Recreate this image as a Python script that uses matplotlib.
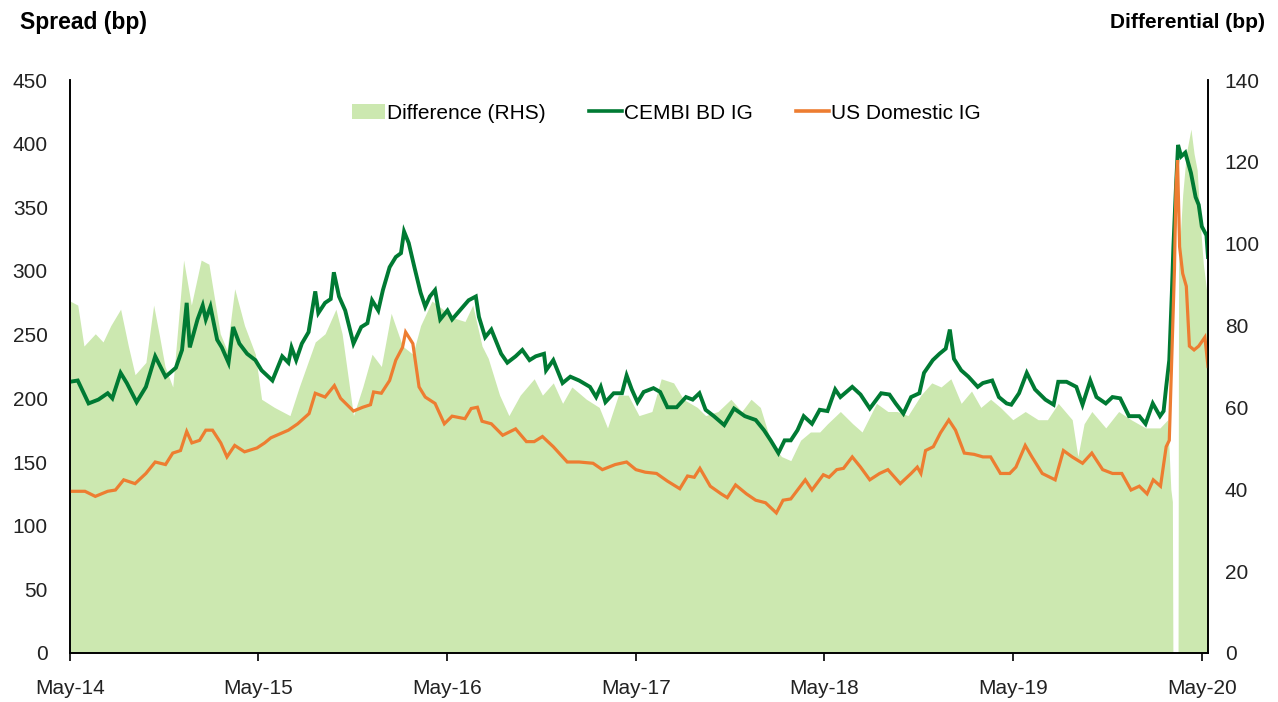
import matplotlib
matplotlib.use("Agg")
import matplotlib.pyplot as plt
import matplotlib.dates as mdates
from matplotlib.patches import Patch
from matplotlib.lines import Line2D
import pandas as pd

plt.rcParams['font.family'] = ['Liberation Sans', 'DejaVu Sans']

# ---------------- data ----------------
cembi_dates = [
    "2014-05-01", "2014-05-16", "2014-06-06", "2014-06-25", "2014-07-13", "2014-07-22", "2014-08-07", "2014-08-19",
    "2014-09-07", "2014-09-25", "2014-10-13", "2014-11-02", "2014-11-22", "2014-12-04", "2014-12-13", "2014-12-19",
    "2015-01-03", "2015-01-13", "2015-01-19", "2015-01-28", "2015-02-10", "2015-02-19", "2015-03-04", "2015-03-13",
    "2015-03-25", "2015-04-09", "2015-04-25", "2015-05-07", "2015-05-28", "2015-06-16", "2015-06-28", "2015-07-04",
    "2015-07-13", "2015-07-24", "2015-08-06", "2015-08-19", "2015-08-25", "2015-09-07", "2015-09-18", "2015-09-24",
    "2015-10-04", "2015-10-16", "2015-11-01", "2015-11-16", "2015-11-28", "2015-12-07", "2015-12-19", "2015-12-28",
    "2016-01-10", "2016-01-22", "2016-02-01", "2016-02-07", "2016-02-16", "2016-02-27", "2016-03-10", "2016-03-19",
    "2016-03-28", "2016-04-07", "2016-04-17", "2016-05-01", "2016-05-10", "2016-05-25", "2016-06-11", "2016-06-25",
    "2016-07-01", "2016-07-13", "2016-07-25", "2016-08-13", "2016-08-25", "2016-09-10", "2016-09-23", "2016-10-07",
    "2016-10-19", "2016-11-04", "2016-11-08", "2016-11-22", "2016-12-10", "2016-12-25", "2017-01-11", "2017-02-01",
    "2017-02-13", "2017-02-22", "2017-03-03", "2017-03-19", "2017-04-04", "2017-04-13", "2017-04-23", "2017-05-04",
    "2017-05-16", "2017-06-04", "2017-06-17", "2017-07-01", "2017-07-19", "2017-08-06", "2017-08-19", "2017-09-01",
    "2017-09-13", "2017-09-29", "2017-10-19", "2017-11-07", "2017-11-28", "2017-12-19", "2018-01-04", "2018-01-17",
    "2018-02-01", "2018-02-13", "2018-02-25", "2018-03-10", "2018-03-22", "2018-04-07", "2018-04-22", "2018-05-07",
    "2018-05-22", "2018-06-01", "2018-06-24", "2018-07-10", "2018-07-28", "2018-08-19", "2018-09-04", "2018-09-16",
    "2018-10-01", "2018-10-16", "2018-11-01", "2018-11-10", "2018-11-27", "2018-12-10", "2018-12-22", "2018-12-30",
    "2019-01-07", "2019-01-21", "2019-02-04", "2019-02-22", "2019-03-04", "2019-03-22", "2019-04-04", "2019-04-19",
    "2019-04-28", "2019-05-13", "2019-05-28", "2019-06-13", "2019-07-03", "2019-07-19", "2019-07-28", "2019-08-13",
    "2019-09-01", "2019-09-13", "2019-09-28", "2019-10-10", "2019-10-28", "2019-11-10", "2019-11-25", "2019-12-12",
    "2020-01-01", "2020-01-13", "2020-01-27", "2020-02-10", "2020-02-17", "2020-02-22", "2020-02-28", "2020-03-04",
    "2020-03-07", "2020-03-12", "2020-03-16", "2020-03-22", "2020-03-30", "2020-04-10", "2020-04-19", "2020-04-25",
    "2020-05-01", "2020-05-10", "2020-05-13",
]
cembi_vals = [
    213, 214, 196, 199, 204, 200, 220, 212,
    197, 209, 233, 217, 224, 238, 275, 240,
    262, 273, 262, 272, 246, 240, 228, 256,
    243, 235, 230, 222, 214, 233, 228, 240,
    230, 243, 252, 284, 267, 275, 278, 299,
    280, 269, 243, 256, 259, 277, 269, 285,
    303, 311, 314, 331, 322, 303, 283, 272,
    280, 285, 262, 269, 262, 269, 277, 280,
    264, 248, 254, 235, 228, 233, 238, 230,
    233, 235, 222, 230, 212, 217, 214, 209,
    201, 209, 197, 204, 204, 218, 207, 197,
    205, 208, 205, 193, 193, 201, 199, 204,
    191, 186, 179, 192, 186, 183, 175, 167,
    157, 167, 167, 175, 186, 180, 191, 190,
    207, 201, 209, 203, 192, 204, 203, 196,
    188, 201, 204, 220, 230, 235, 239, 254,
    231, 222, 217, 209, 212, 214, 201, 196,
    195, 204, 220, 207, 199, 195, 213, 213,
    209, 195, 214, 201, 196, 201, 200, 186,
    186, 180, 196, 186, 190, 209, 230, 283,
    319, 366, 399, 390, 393, 377, 358, 352,
    335, 328, 311,
]

us_dates = [
    "2014-05-01", "2014-05-30", "2014-06-19", "2014-07-13", "2014-07-28", "2014-08-13", "2014-09-04", "2014-09-25",
    "2014-10-13", "2014-11-02", "2014-11-16", "2014-12-01", "2014-12-13", "2014-12-23", "2015-01-07", "2015-01-19",
    "2015-02-01", "2015-02-17", "2015-03-01", "2015-03-16", "2015-04-04", "2015-04-28", "2015-05-13", "2015-05-25",
    "2015-06-28", "2015-07-16", "2015-08-07", "2015-08-19", "2015-09-07", "2015-09-25", "2015-10-07", "2015-11-01",
    "2015-11-19", "2015-12-04", "2015-12-10", "2015-12-25", "2016-01-10", "2016-01-22", "2016-02-04", "2016-02-10",
    "2016-02-24", "2016-03-07", "2016-03-19", "2016-04-07", "2016-04-25", "2016-05-10", "2016-06-04", "2016-06-16",
    "2016-06-28", "2016-07-07", "2016-07-25", "2016-08-16", "2016-09-10", "2016-10-01", "2016-10-16", "2016-11-01",
    "2016-11-22", "2016-12-19", "2017-01-11", "2017-02-07", "2017-02-25", "2017-03-22", "2017-04-13", "2017-05-01",
    "2017-05-19", "2017-06-10", "2017-07-01", "2017-07-25", "2017-08-09", "2017-08-22", "2017-09-02", "2017-09-22",
    "2017-10-13", "2017-10-25", "2017-11-10", "2017-12-01", "2017-12-19", "2018-01-07", "2018-01-28", "2018-02-10",
    "2018-02-25", "2018-03-10", "2018-03-25", "2018-04-07", "2018-04-29", "2018-05-10", "2018-05-25", "2018-06-07",
    "2018-06-24", "2018-07-10", "2018-07-28", "2018-08-16", "2018-09-01", "2018-09-25", "2018-10-16", "2018-10-28",
    "2018-11-04", "2018-11-13", "2018-11-28", "2018-12-12", "2018-12-28", "2019-01-10", "2019-01-27", "2019-02-15",
    "2019-03-04", "2019-03-19", "2019-04-07", "2019-04-25", "2019-05-07", "2019-05-25", "2019-06-07", "2019-06-27",
    "2019-07-22", "2019-08-07", "2019-08-24", "2019-09-13", "2019-10-01", "2019-10-22", "2019-11-10", "2019-11-28",
    "2019-12-16", "2020-01-01", "2020-01-16", "2020-01-28", "2020-02-11", "2020-02-22", "2020-02-28", "2020-03-04",
    "2020-03-09", "2020-03-12", "2020-03-15", "2020-03-19", "2020-03-25", "2020-04-01", "2020-04-07", "2020-04-16",
    "2020-04-25", "2020-05-07", "2020-05-13",
]
us_vals = [
    127, 127, 123, 127, 128, 136, 133, 141,
    150, 148, 157, 159, 174, 165, 167, 175,
    175, 165, 154, 163, 158, 161, 165, 169,
    175, 180, 188, 204, 201, 210, 200, 190,
    193, 195, 205, 204, 214, 230, 240, 252,
    243, 209, 201, 196, 180, 186, 184, 192,
    193, 182, 180, 171, 176, 166, 166, 170,
    162, 150, 150, 149, 144, 148, 150, 144,
    142, 141, 135, 129, 139, 138, 145, 131,
    125, 122, 132, 125, 120, 118, 110, 120,
    121, 128, 136, 128, 140, 138, 144, 145,
    154, 146, 136, 141, 144, 133, 141, 146,
    141, 159, 162, 173, 183, 175, 157, 156,
    154, 154, 141, 141, 146, 163, 154, 141,
    136, 159, 154, 149, 157, 144, 141, 141,
    128, 131, 125, 136, 131, 162, 167, 235,
    301, 366, 387, 319, 298, 288, 241, 238,
    241, 248, 225,
]

diff_dates = [
    "2014-05-01", "2014-05-16", "2014-05-28", "2014-06-19", "2014-07-04", "2014-07-19", "2014-08-07", "2014-08-22",
    "2014-09-04", "2014-09-25", "2014-10-10", "2014-10-22", "2014-11-01", "2014-11-16", "2014-12-07", "2014-12-22",
    "2015-01-10", "2015-01-25", "2015-02-16", "2015-03-01", "2015-03-16", "2015-04-04", "2015-04-25", "2015-05-07",
    "2015-06-01", "2015-07-01", "2015-07-19", "2015-08-19", "2015-09-07", "2015-09-28", "2015-10-10", "2015-11-01",
    "2015-11-19", "2015-12-07", "2015-12-25", "2016-01-13", "2016-02-04", "2016-02-24", "2016-03-10", "2016-04-01",
    "2016-04-22", "2016-05-10", "2016-06-04", "2016-06-19", "2016-07-07", "2016-07-19", "2016-08-10", "2016-08-28",
    "2016-09-19", "2016-10-16", "2016-11-01", "2016-11-22", "2016-12-10", "2016-12-28", "2017-01-25", "2017-02-19",
    "2017-03-07", "2017-03-28", "2017-04-16", "2017-05-07", "2017-06-01", "2017-06-19", "2017-07-13", "2017-08-01",
    "2017-08-28", "2017-09-13", "2017-10-07", "2017-11-01", "2017-11-22", "2017-12-10", "2017-12-28", "2018-01-19",
    "2018-02-07", "2018-02-25", "2018-03-16", "2018-04-04", "2018-04-22", "2018-05-07", "2018-06-01", "2018-06-25",
    "2018-07-13", "2018-08-10", "2018-09-01", "2018-09-19", "2018-10-10", "2018-11-04", "2018-11-25", "2018-12-13",
    "2019-01-01", "2019-01-21", "2019-02-10", "2019-02-28", "2019-03-19", "2019-04-07", "2019-05-01", "2019-05-25",
    "2019-06-19", "2019-07-07", "2019-07-28", "2019-08-24", "2019-09-04", "2019-09-16", "2019-10-01", "2019-10-28",
    "2019-11-22", "2019-12-16", "2020-01-13", "2020-02-10", "2020-02-25", "2020-03-02", "2020-03-05", "2020-03-06",
    "2020-03-16", "2020-03-17", "2020-03-25", "2020-04-01", "2020-04-10", "2020-04-16", "2020-04-22", "2020-04-28",
    "2020-05-04", "2020-05-13",
]
diff_vals = [
    86, 85, 75, 78, 76, 80, 84, 75,
    68, 71, 85, 77, 70, 65, 96, 85,
    96, 95, 78, 74, 89, 80, 73, 62,
    60, 58, 65, 76, 78, 84, 78, 58,
    65, 73, 70, 83, 75, 73, 80, 86,
    84, 82, 81, 85, 75, 72, 63, 58,
    63, 67, 63, 66, 61, 65, 62, 60,
    55, 63, 63, 58, 59, 67, 66, 62,
    60, 58, 59, 62, 59, 62, 60, 51,
    48, 47, 52, 54, 54, 56, 59, 56,
    54, 61, 59, 59, 58, 63, 66, 65,
    67, 61, 64, 60, 62, 60, 57, 59,
    57, 57, 61, 57, 48, 56, 59, 55,
    59, 57, 55, 55, 57, 40, 37, 0,
    0, 95, 112, 122, 128, 122, 118, 105,
    95, 86,
]

year_ticks = ["2014-05-01", "2015-05-01", "2016-05-01", "2017-05-01", "2018-05-01", "2019-05-01", "2020-05-01"]
x_range = ["2014-05-01", "2020-05-13"]

# ---------------- figure ----------------
fig = plt.figure(figsize=(12.78, 7.02), dpi=100)
ax = fig.add_axes([70 / 1278, 1 - 653 / 702, 1138 / 1278, 573 / 702])
ax2 = ax.twinx()

fill_col = "#cce8b0"
green = "#007a33"
orange = "#ed7d31"

ax2.fill_between(pd.to_datetime(diff_dates), diff_vals, 0, color=fill_col, linewidth=0)
ax.plot(pd.to_datetime(cembi_dates), cembi_vals, color=green, lw=2.8, solid_joinstyle="miter")
ax.plot(pd.to_datetime(us_dates), us_vals, color=orange, lw=2.3, solid_joinstyle="miter")

ax.set_zorder(ax2.get_zorder() + 1)
ax.patch.set_visible(False)

ax.set_ylim(0, 450)
ax2.set_ylim(0, 140)
ax.set_yticks(range(0, 451, 50))
ax2.set_yticks(range(0, 141, 20))
ax.set_xlim(pd.to_datetime(x_range[0]), pd.to_datetime(x_range[1]))
ax.set_xticks(pd.to_datetime(year_ticks))
ax.xaxis.set_major_formatter(mdates.DateFormatter("%b-%y"))

for a in (ax, ax2):
    a.spines["top"].set_visible(False)
    for s in ("left", "right", "bottom"):
        a.spines[s].set_color("black")
        a.spines[s].set_linewidth(1.2)

fs = 15
ax.tick_params(axis="y", length=0, pad=16, labelsize=fs, labelcolor="#222222")
ax2.tick_params(axis="y", length=0, pad=12, labelsize=fs, labelcolor="#222222")
ax.tick_params(axis="x", length=6, width=1.2, direction="out", pad=13, labelsize=fs, labelcolor="#222222")

fig.text(20 / 1278, 1 - 23 / 702, "Spread (bp)", fontsize=16.5, fontweight="bold", ha="left", va="center")
fig.text(1265 / 1278, 1 - 23 / 702, "Differential (bp)", fontsize=15, fontweight="bold", ha="right", va="center")

handles = [
    Patch(facecolor=fill_col, edgecolor="none", label="Difference (RHS)"),
    Line2D([], [], color=green, lw=2.6, label="CEMBI BD IG"),
    Line2D([], [], color=orange, lw=2.6, label="US Domestic IG"),
]
ax.legend(handles=handles, loc="center", bbox_to_anchor=(0.524, 0.942), ncol=3, frameon=False,
          fontsize=fs, handlelength=1.6, handletextpad=0.1, columnspacing=2.07, borderaxespad=0)

fig.savefig("out.png", dpi=100)
